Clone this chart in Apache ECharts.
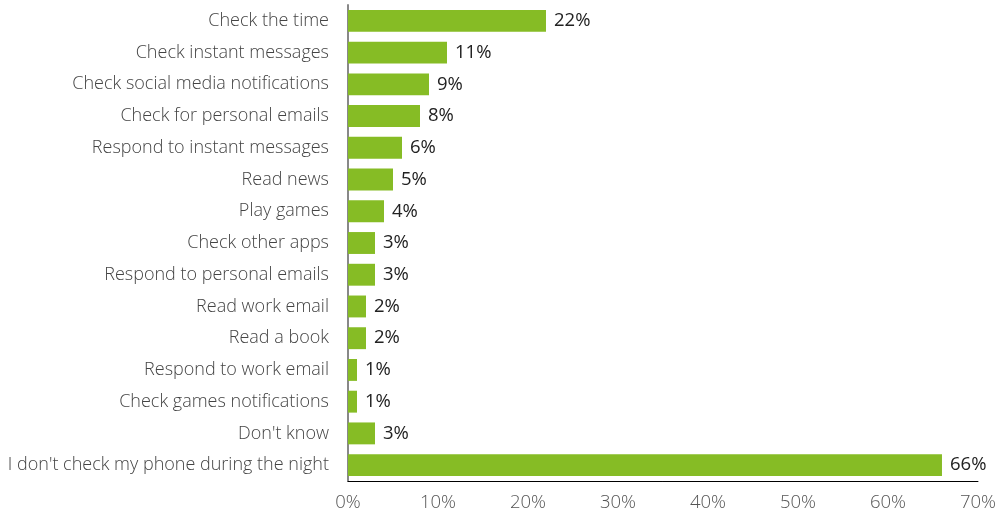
<!DOCTYPE html>
<html>
<head>
<meta charset="utf-8">
<script src="https://cdn.jsdelivr.net/npm/echarts@6/dist/echarts.min.js"></script>
<style>html,body{margin:0;padding:0;background:#fff}#c{width:999px;height:512px}</style>
</head>
<body>
<div id="c"></div>
<script>
const categories = [
  "Check the time",
  "Check instant messages",
  "Check social media notifications",
  "Check for personal emails",
  "Respond to instant messages",
  "Read news",
  "Play games",
  "Check other apps",
  "Respond to personal emails",
  "Read work email",
  "Read a book",
  "Respond to work email",
  "Check games notifications",
  "Don't know",
  "I don't check my phone during the night"
];
const values = [22, 11, 9, 8, 6, 5, 4, 3, 3, 2, 2, 1, 1, 3, 66];
const xTicks = [0, 10, 20, 30, 40, 50, 60, 70];

const chart = echarts.init(document.getElementById('c'), null, {renderer: 'canvas'});
chart.setOption({
  animation: false,
  textStyle: {fontFamily: 'Open Sans'},
  grid: {left: 348, right: 21, top: 5, bottom: 30, containLabel: false},
  xAxis: {
    type: 'value',
    min: xTicks[0],
    max: xTicks[xTicks.length - 1],
    interval: 10,
    axisLine: {show: true, lineStyle: {color: '#000', width: 1}},
    axisTick: {show: false},
    splitLine: {show: false},
    axisLabel: {
      color: '#555',
      fontSize: 18.5,
      fontWeight: 300,
      fontFamily: 'Open Sans',
      margin: 12,
      formatter: v => v + '%'
    }
  },
  yAxis: {
    type: 'category',
    data: categories,
    inverse: true,
    axisLine: {show: true, lineStyle: {color: '#888', width: 2}},
    axisTick: {show: false},
    axisLabel: {
      color: '#444',
      fontSize: 18,
      fontWeight: 300,
      fontFamily: 'Open Sans',
      margin: 19
    }
  },
  series: [{
    type: 'bar',
    data: values,
    barCategoryGap: '31%',
    itemStyle: {color: '#86bc25'},
    label: {
      show: true,
      position: 'right',
      distance: 8,
      color: '#222',
      fontSize: 18.5,
      fontFamily: 'Open Sans',
      formatter: p => p.value + '%'
    }
  }]
});
</script>
</body>
</html>
